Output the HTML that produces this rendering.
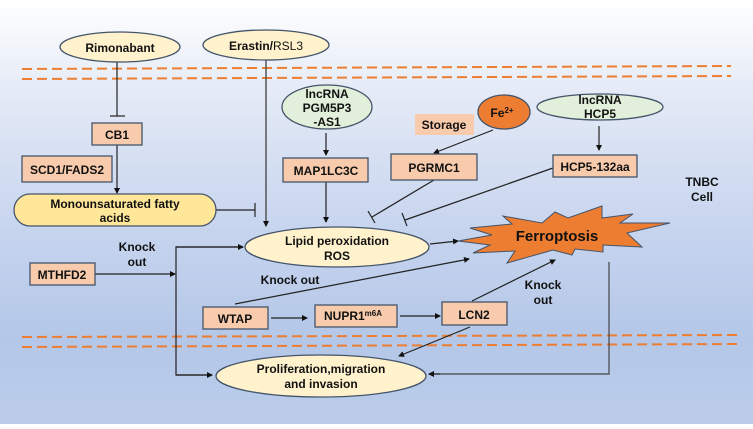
<!DOCTYPE html>
<html><head><meta charset="utf-8"><style>
html,body{margin:0;padding:0;}
body{width:753px;height:424px;overflow:hidden;background:linear-gradient(#ffffff 0%,#e6ecf7 20%,#c6d4ee 55%,#b4c7e8 80%,#bccdeb 100%);}
svg text{font-family:"Liberation Sans",Arial,sans-serif;font-weight:bold;fill:#111;}
</style></head><body>
<svg width="753" height="424" viewBox="0 0 753 424" xmlns="http://www.w3.org/2000/svg">
<defs>
<marker id="a" markerWidth="6" markerHeight="6" refX="5" refY="3" orient="auto" markerUnits="userSpaceOnUse"><path d="M0,0 L6,3 L0,6 z" fill="#111"/></marker>
</defs>
<g stroke="#ed7d31" stroke-width="2" stroke-dasharray="10,5" fill="none">
<line x1="22" y1="69" x2="731" y2="66"/>
<line x1="22" y1="79" x2="731" y2="76"/>
<line x1="22" y1="337" x2="738" y2="335"/>
<line x1="22" y1="347" x2="738" y2="344"/>
</g>
<!-- connectors -->
<g stroke="#222" stroke-width="1.2" fill="none">
<line x1="117" y1="62" x2="117" y2="116"/><line x1="110" y1="116" x2="125" y2="116"/>
<line x1="117" y1="145" x2="117" y2="193" marker-end="url(#a)"/>
<line x1="216" y1="210" x2="255" y2="210"/><line x1="255" y1="203" x2="255" y2="217"/>
<line x1="266" y1="60" x2="266" y2="226" stroke="#555" stroke-width="1.5" marker-end="url(#a)"/>
<line x1="326" y1="133" x2="326" y2="155" marker-end="url(#a)"/>
<line x1="326" y1="182" x2="326" y2="222" marker-end="url(#a)"/>
<line x1="493" y1="130" x2="434" y2="153" marker-end="url(#a)"/>
<line x1="599" y1="126" x2="599" y2="150" marker-end="url(#a)"/>
<line x1="434" y1="180" x2="372" y2="217"/><line x1="368" y1="211" x2="375" y2="223"/>
<line x1="553" y1="168" x2="405" y2="220"/><line x1="402" y1="213" x2="407" y2="226"/>
<line x1="430" y1="244" x2="458" y2="241" marker-end="url(#a)"/>
<line x1="95" y1="274" x2="175" y2="274" marker-end="url(#a)"/>
<polyline points="243,247 176,247 176,375 212,375" />
<line x1="176" y1="247" x2="243" y2="247" marker-end="url(#a)"/>
<line x1="176" y1="375" x2="212" y2="375" marker-end="url(#a)"/>
<line x1="235" y1="304" x2="469" y2="259" marker-end="url(#a)"/>
<line x1="271" y1="318" x2="307" y2="318" marker-end="url(#a)"/>
<line x1="400" y1="316" x2="440" y2="316" marker-end="url(#a)"/>
<line x1="472" y1="301" x2="555" y2="260" marker-end="url(#a)"/>
<line x1="470" y1="327" x2="399" y2="356" marker-end="url(#a)"/>
<polyline points="609,262 609,374 429,374" stroke="#444"/>
<line x1="440" y1="374" x2="429" y2="374" marker-end="url(#a)"/>
</g>
<!-- ellipses -->
<g stroke="#44546a" stroke-width="1.3">
<ellipse cx="120" cy="47" rx="60" ry="15" fill="#fff2cc"/>
<ellipse cx="266" cy="45" rx="63" ry="15" fill="#fff2cc"/>
<ellipse cx="327" cy="107" rx="45" ry="22" fill="#e2efda"/>
<ellipse cx="504" cy="112" rx="26" ry="17" fill="#ed7d31"/>
<ellipse cx="600" cy="107" rx="63" ry="13" fill="#e2efda"/>
<rect x="14" y="194" width="202" height="32" rx="16" fill="#ffe699"/>
<ellipse cx="337" cy="247" rx="92" ry="20" fill="#fff2cc"/>
<ellipse cx="321" cy="376" rx="105" ry="21" fill="#fff2cc"/>
</g>
<!-- boxes -->
<g stroke="#44546a" stroke-width="1.3" fill="#f8cbad">
<rect x="92" y="123" width="50" height="22"/>
<rect x="22" y="156" width="90" height="26"/>
<rect x="283" y="158" width="85" height="24"/>
<rect x="391" y="154" width="86" height="26"/>
<rect x="553" y="155" width="84" height="22"/>
<rect x="30" y="263" width="65" height="22"/>
<rect x="203" y="307" width="65" height="22"/>
<rect x="315" y="305" width="82" height="22"/>
<rect x="442" y="302" width="65" height="23"/>
</g>
<rect x="415" y="114" width="59" height="21" fill="#f8cbad"/>
<polygon fill="#ed7d31" stroke="#44546a" stroke-width="1" points="470,228 512,224 503,216 542,223 555,212 568,218 602,206 602,218 633,214 620,223 670,223 627,233 642,247 603,245 603,252 575,249 572,255 553,250 507,263 515,251 473,253 490,245 458,241 492,235"/>
<!-- text -->
<g font-size="12" text-anchor="middle">
<text x="120" y="52">Rimonabant</text>
<text x="266" y="50">Erastin/<tspan font-weight="normal">RSL3</tspan></text>
<text x="327" y="98">lncRNA</text><text x="327" y="112">PGM5P3</text><text x="327" y="126">-AS1</text>
<text x="502" y="117">Fe<tspan font-size="8" dy="-4">2+</tspan></text>
<text x="444" y="129">Storage</text>
<text x="600" y="104">lncRNA</text><text x="600" y="118">HCP5</text>
<text x="117" y="139">CB1</text>
<text x="67" y="174">SCD1/FADS2</text>
<text x="326" y="175">MAP1LC3C</text>
<text x="434" y="172">PGRMC1</text>
<text x="595" y="171">HCP5-132aa</text>
<text x="702" y="186">TNBC</text><text x="702" y="201">Cell</text>
<text x="115" y="208">Monounsaturated  fatty</text><text x="115" y="222">acids</text>
<text x="337" y="245">Lipid peroxidation</text><text x="337" y="260">ROS</text>
<text x="557" y="241" font-size="15">Ferroptosis</text>
<text x="137" y="251">Knock</text><text x="137" y="266">out</text>
<text x="62" y="279">MTHFD2</text>
<text x="290" y="284">Knock out</text>
<text x="543" y="289">Knock</text><text x="543" y="304">out</text>
<text x="235" y="323">WTAP</text>
<text x="353" y="320">NUPR1<tspan font-size="8" dy="-4">m6A</tspan></text>
<text x="474" y="319">LCN2</text>
<text x="321" y="373">Proliferation,migration</text><text x="321" y="388">and invasion</text>
</g>
</svg>
</body></html>
